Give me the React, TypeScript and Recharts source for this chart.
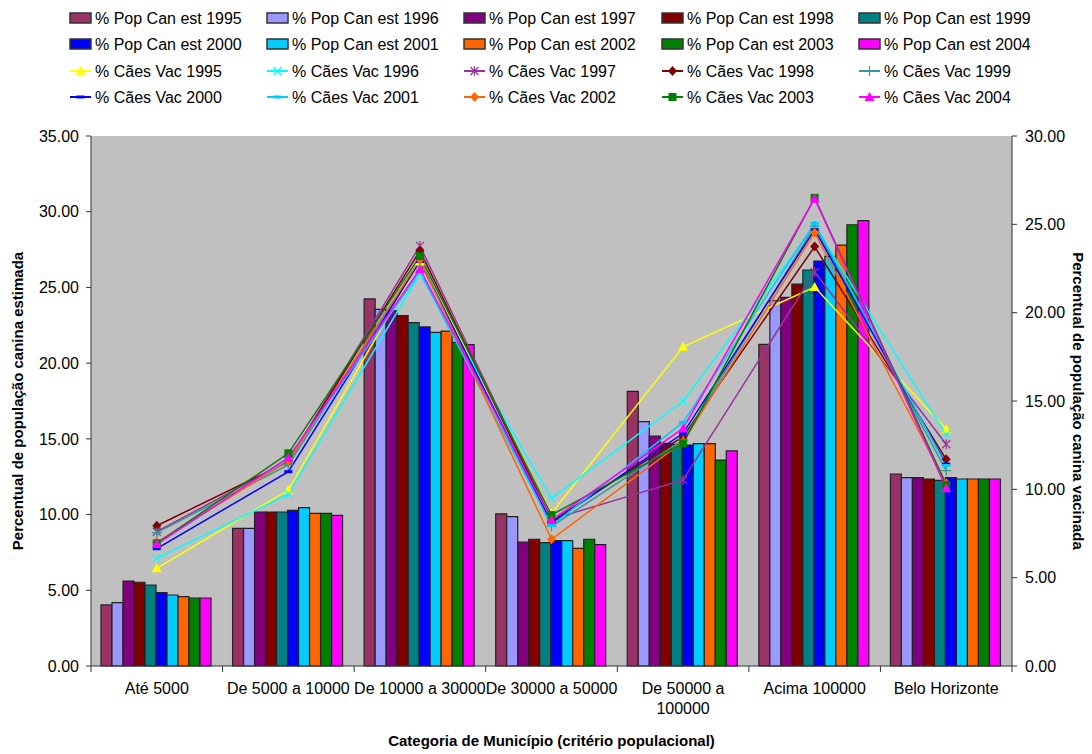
import { ComposedChart, Bar, Line, XAxis, YAxis, CartesianGrid } from 'recharts';

const CATEGORIES = [
  'Até 5000',
  'De 5000 a 10000',
  'De 10000 a 30000',
  'De 30000 a 50000',
  'De 50000 a 100000',
  'Acima 100000',
  'Belo Horizonte',
];

const YEARS = ['1995', '1996', '1997', '1998', '1999', '2000', '2001', '2002', '2003', '2004'];

// % Pop Can est (left axis)
const POP_1995 = [4.03, 9.09, 24.24, 10.04, 18.14, 21.24, 12.68];
const POP_1996 = [4.18, 9.09, 23.55, 9.86, 16.14, 24.12, 12.44];
const POP_1997 = [5.61, 10.17, 23.46, 8.19, 15.19, 24.34, 12.44];
const POP_1998 = [5.53, 10.17, 23.14, 8.37, 14.7, 25.22, 12.35];
const POP_1999 = [5.35, 10.17, 22.67, 8.15, 14.64, 26.15, 12.26];
const POP_2000 = [4.84, 10.28, 22.39, 8.28, 14.59, 26.74, 12.44];
const POP_2001 = [4.69, 10.46, 22.03, 8.28, 14.68, 27.05, 12.35];
const POP_2002 = [4.58, 10.08, 22.12, 7.77, 14.68, 27.8, 12.35];
const POP_2003 = [4.49, 10.08, 21.37, 8.37, 13.6, 29.14, 12.35];
const POP_2004 = [4.49, 9.95, 21.22, 8.01, 14.2, 29.41, 12.35];

// % Cães Vac (right axis)
const VAC_1995 = [5.53, 9.96, 22.9, 8.64, 18.07, 21.45, 13.4];
const VAC_1996 = [6.09, 9.72, 22.2, 9.49, 15.0, 24.9, 13.1];
const VAC_1997 = [7.6, 11.6, 23.78, 8.3, 10.53, 22.3, 12.55];
const VAC_1998 = [7.94, 11.57, 23.5, 8.2, 12.98, 23.74, 11.7];
const VAC_1999 = [7.55, 11.38, 23.0, 7.9, 12.8, 24.9, 11.06];
const VAC_2000 = [6.64, 11.0, 22.9, 8.1, 13.17, 24.7, 11.43];
const VAC_2001 = [6.9, 11.7, 22.3, 7.95, 13.79, 25.06, 11.35];
const VAC_2002 = [7.0, 11.6, 23.0, 7.17, 12.7, 24.53, 10.34];
const VAC_2003 = [6.94, 12.04, 23.2, 8.55, 12.6, 26.5, 10.25];
const VAC_2004 = [6.9, 11.79, 22.46, 8.26, 13.45, 26.45, 10.06];

const LEFT_TICKS = [0, 5, 10, 15, 20, 25, 30, 35];
const RIGHT_TICKS = [0, 5, 10, 15, 20, 25, 30];

const POP = [POP_1995, POP_1996, POP_1997, POP_1998, POP_1999, POP_2000, POP_2001, POP_2002, POP_2003, POP_2004];
const VAC = [VAC_1995, VAC_1996, VAC_1997, VAC_1998, VAC_1999, VAC_2000, VAC_2001, VAC_2002, VAC_2003, VAC_2004];

const BAR_COLORS = ['#993366', '#9999FF', '#800080', '#800000', '#008080', '#0000FF', '#00CCFF', '#FF6600', '#008000', '#FF00FF'];
const LINE_COLORS = ['#FFFF00', '#00FFFF', '#993399', '#800000', '#339999', '#0000FF', '#00CCFF', '#FF6600', '#008000', '#FF00FF'];
const LINE_MARKERS = ['triangle', 'x', 'star', 'diamond', 'plus', 'dash', 'dash', 'diamond', 'square', 'triangle'];

const data = CATEGORIES.map((name, i) => {
  const row: Record<string, string | number> = { name };
  YEARS.forEach((y, k) => {
    row['pop' + y] = POP[k][i];
    row['vac' + y] = VAC[k][i];
  });
  return row;
});

const FONT = 'Arial, "Liberation Sans", sans-serif';
const BAND = (1012 - 91) / CATEGORIES.length;

function Marker({ shape, color, cx, cy }: { shape: string; color: string; cx: number; cy: number }) {
  switch (shape) {
    case 'triangle':
      return <polygon points={`${cx},${cy - 5} ${cx - 5},${cy + 4} ${cx + 5},${cy + 4}`} fill={color} />;
    case 'x':
      return (
        <g stroke={color} strokeWidth={1.2}>
          <line x1={cx - 4} y1={cy - 4} x2={cx + 4} y2={cy + 4} />
          <line x1={cx - 4} y1={cy + 4} x2={cx + 4} y2={cy - 4} />
        </g>
      );
    case 'star':
      return (
        <g stroke={color} strokeWidth={1.2}>
          <line x1={cx - 4} y1={cy - 4} x2={cx + 4} y2={cy + 4} />
          <line x1={cx - 4} y1={cy + 4} x2={cx + 4} y2={cy - 4} />
          <line x1={cx} y1={cy - 5} x2={cx} y2={cy + 5} />
        </g>
      );
    case 'diamond':
      return <polygon points={`${cx},${cy - 5} ${cx + 4.5},${cy} ${cx},${cy + 5} ${cx - 4.5},${cy}`} fill={color} />;
    case 'plus':
      return (
        <g stroke={color} strokeWidth={1.2}>
          <line x1={cx - 5} y1={cy} x2={cx + 5} y2={cy} />
          <line x1={cx} y1={cy - 5} x2={cx} y2={cy + 5} />
        </g>
      );
    case 'dash':
      return <rect x={cx - 4} y={cy - 1.5} width={8} height={3} fill={color} />;
    case 'square':
      return <rect x={cx - 4} y={cy - 4} width={8} height={8} fill={color} />;
    default:
      return null;
  }
}

const makeDot = (shape: string, color: string) => (props: any) => {
  const { cx, cy, index } = props;
  if (cx == null || cy == null) return <g key={index} />;
  return (
    <g key={index}>
      <Marker shape={shape} color={color} cx={cx} cy={cy} />
    </g>
  );
};

function CategoryTick(props: any) {
  const { x, y, payload, index } = props;
  const label: string = payload.value;
  let lines = [label];
  if (label.length > 16) {
    const cut = label.lastIndexOf(' ');
    lines = [label.slice(0, cut), label.slice(cut + 1)];
  }
  return (
    <g>
      <line x1={x - BAND / 2} y1={y - 8} x2={x - BAND / 2} y2={y - 2} stroke="#333" />
      {index === CATEGORIES.length - 1 && (
        <line x1={x + BAND / 2} y1={y - 8} x2={x + BAND / 2} y2={y - 2} stroke="#333" />
      )}
      {lines.map((l, i) => (
        <text key={i} x={x} y={y + 20 + i * 20} textAnchor="middle" fontSize={16} fontFamily={FONT} fill="#000">
          {l}
        </text>
      ))}
    </g>
  );
}

function LegendBlock() {
  const colX = [70, 267, 464, 662, 859];
  const rowY = [18, 44, 71, 97];
  const items: { label: string; kind: 'bar' | 'line'; idx: number }[] = [];
  YEARS.forEach((y, k) => items.push({ label: `% Pop Can est ${y}`, kind: 'bar', idx: k }));
  YEARS.forEach((y, k) => items.push({ label: `% Cães Vac ${y}`, kind: 'line', idx: k }));
  return (
    <g>
      {items.map((it, n) => {
        const x = colX[n % 5];
        const y = rowY[Math.floor(n / 5)];
        return (
          <g key={n}>
            {it.kind === 'bar' ? (
              <rect x={x} y={y - 5} width={21} height={10} fill={BAR_COLORS[it.idx]} stroke="#333" strokeWidth={1.5} />
            ) : (
              <g>
                <line x1={x} y1={y} x2={x + 21} y2={y} stroke={LINE_COLORS[it.idx]} strokeWidth={2} />
                <Marker shape={LINE_MARKERS[it.idx]} color={LINE_COLORS[it.idx]} cx={x + 10.5} cy={y} />
              </g>
            )}
            <text x={x + 25} y={y + 6} fontSize={16} fontFamily={FONT} fill="#000">
              {it.label}
            </text>
          </g>
        );
      })}
    </g>
  );
}

export default function App() {
  return (
    <div style={{ position: 'absolute', left: 0, top: 0, width: 1092, height: 754, background: '#fff' }}>
      <ComposedChart
        width={1092}
        height={754}
        data={data}
        margin={{ top: 136, right: 0, bottom: 28, left: 0 }}
        barCategoryGap={10}
        barGap={0}
      >
        <CartesianGrid fill="#C0C0C0" horizontal={false} vertical={false} yAxisId="left" />
        <XAxis
          dataKey="name"
          height={60}
          axisLine={{ stroke: '#333' }}
          tickLine={false}
          tick={<CategoryTick />}
          interval={0}
          label={{
            value: 'Categoria de Município (critério populacional)',
            position: 'insideBottom',
            offset: -20,
            style: { fontSize: 15, fontWeight: 'bold', fontFamily: FONT, fill: '#000' },
          }}
        />
        <YAxis
          yAxisId="left"
          orientation="left"
          width={91}
          domain={[0, 35]}
          ticks={LEFT_TICKS}
          tickFormatter={(v: number) => v.toFixed(2)}
          axisLine={{ stroke: '#333' }}
          tickLine={{ stroke: '#333' }}
          tickSize={5}
          tickMargin={7}
          tick={{ fontSize: 16, fontFamily: FONT, fill: '#000' }}
          label={{
            value: 'Percentual de população canina estimada',
            angle: -90,
            position: 'insideLeft',
            offset: 18,
            style: { textAnchor: 'middle', fontSize: 15, fontWeight: 'bold', fontFamily: FONT, fill: '#000' },
          }}
        />
        <YAxis
          yAxisId="right"
          orientation="right"
          width={80}
          domain={[0, 30]}
          ticks={RIGHT_TICKS}
          tickFormatter={(v: number) => v.toFixed(2)}
          axisLine={{ stroke: '#333' }}
          tickLine={{ stroke: '#333' }}
          tickSize={5}
          tickMargin={8}
          tick={{ fontSize: 16, fontFamily: FONT, fill: '#000' }}
          label={{
            value: 'Percentual de população canina vacinada',
            angle: 90,
            position: 'insideRight',
            offset: 14,
            style: { textAnchor: 'middle', fontSize: 15, fontWeight: 'bold', fontFamily: FONT, fill: '#000' },
          }}
        />
        {YEARS.map((y, k) => (
          <Bar
            key={'pop' + y}
            yAxisId="left"
            dataKey={'pop' + y}
            fill={BAR_COLORS[k]}
            stroke="#222"
            strokeWidth={1.2}
            isAnimationActive={false}
          />
        ))}
        {YEARS.map((y, k) => (
          <Line
            key={'vac' + y}
            yAxisId="right"
            dataKey={'vac' + y}
            type="linear"
            stroke={LINE_COLORS[k]}
            strokeWidth={1.5}
            dot={makeDot(LINE_MARKERS[k], LINE_COLORS[k])}
            activeDot={false}
            isAnimationActive={false}
          />
        ))}
        <LegendBlock />
      </ComposedChart>
    </div>
  );
}
